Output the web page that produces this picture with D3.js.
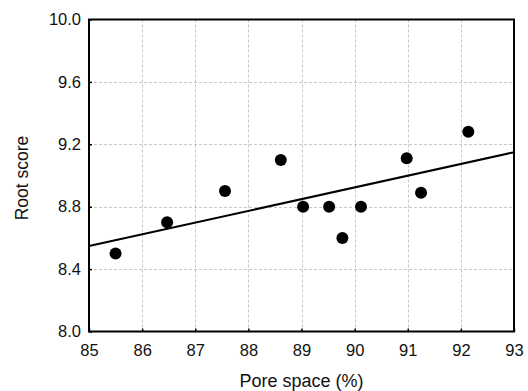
<!DOCTYPE html>
<html>
<head>
<meta charset="utf-8">
<script src="https://cdn.jsdelivr.net/npm/d3@7"></script>
<style>
  html, body { margin: 0; padding: 0; background: #fff; }
  svg { display: block; font-family: "Liberation Sans", Arial, sans-serif; }
</style>
</head>
<body>
<svg id="chart" width="528" height="391"></svg>
<script>
// Pore space (%) vs root score, with a fitted line.
const poreSpace = [85.5, 86.47, 87.56, 88.61, 89.03, 89.52, 89.77, 90.12, 90.98, 91.25, 92.14];
const rootScore = [8.5, 8.7, 8.9, 9.1, 8.8, 8.8, 8.6, 8.8, 9.11, 8.89, 9.28];
const fitX = [85, 93];
const fitY = [8.548, 9.149];
const xTicks = [85, 86, 87, 88, 89, 90, 91, 92, 93];
const yTicks = [8.0, 8.4, 8.8, 9.2, 9.6, 10.0];

const W = 528, H = 391;
const m = { top: 19.5, right: 14, bottom: 59.5, left: 89 };

const svg = d3.select("#chart");
const x = d3.scaleLinear().domain([85, 93]).range([m.left, W - m.right]);
const y = d3.scaleLinear().domain([8, 10]).range([H - m.bottom, m.top]);

// dashed grid
const grid = svg.append("g").attr("stroke", "#c8c8c8").attr("stroke-dasharray", "3,2").attr("stroke-width", 1);
grid.selectAll("line.v").data(xTicks.slice(1, -1)).join("line")
  .attr("x1", d => Math.round(x(d)) + 0.5).attr("x2", d => Math.round(x(d)) + 0.5)
  .attr("y1", y(10)).attr("y2", y(8));
grid.selectAll("line.h").data(yTicks.slice(1, -1)).join("line")
  .attr("y1", d => Math.round(y(d)) + 0.5).attr("y2", d => Math.round(y(d)) + 0.5)
  .attr("x1", x(85)).attr("x2", x(93));

// axes (ticks pointing inward, labels outside)
const xAxis = d3.axisBottom(x).tickValues(xTicks).tickFormat(d3.format("d"))
  .tickSizeInner(-3).tickSizeOuter(0).tickPadding(13);
const gx = svg.append("g").attr("transform", `translate(0,${y(8)})`).call(xAxis);
const yAxis = d3.axisLeft(y).tickValues(yTicks).tickFormat(d3.format(".1f"))
  .tickSizeInner(-3).tickSizeOuter(0).tickPadding(8);
const gy = svg.append("g").attr("transform", `translate(${x(85)},0)`).call(yAxis);
[gx, gy].forEach(g => {
  g.select(".domain").remove();
  g.selectAll(".tick line").attr("stroke", "#000").attr("stroke-width", 1.5);
  g.selectAll(".tick text").attr("fill", "#111").style("font-size", "16.5px");
});

// frame
svg.append("rect")
  .attr("x", x(85)).attr("y", y(10))
  .attr("width", x(93) - x(85)).attr("height", y(8) - y(10))
  .attr("fill", "none").attr("stroke", "#000").attr("stroke-width", 2);

// regression line
svg.append("line")
  .attr("x1", x(fitX[0])).attr("y1", y(fitY[0]))
  .attr("x2", x(fitX[1])).attr("y2", y(fitY[1]))
  .attr("stroke", "#000").attr("stroke-width", 2);

// points
svg.append("g").selectAll("circle").data(poreSpace).join("circle")
  .attr("cx", d => x(d)).attr("cy", (d, i) => y(rootScore[i]))
  .attr("r", 6).attr("fill", "#000");

// axis titles
svg.append("text")
  .attr("x", (x(85) + x(93)) / 2).attr("y", 387)
  .attr("text-anchor", "middle").style("font-size", "18px").attr("fill", "#111")
  .text("Pore space (%)");
svg.append("text")
  .attr("transform", `translate(27.5,178) rotate(-90)`)
  .attr("text-anchor", "middle").style("font-size", "17.5px").attr("fill", "#111")
  .text("Root score");
</script>
</body>
</html>
